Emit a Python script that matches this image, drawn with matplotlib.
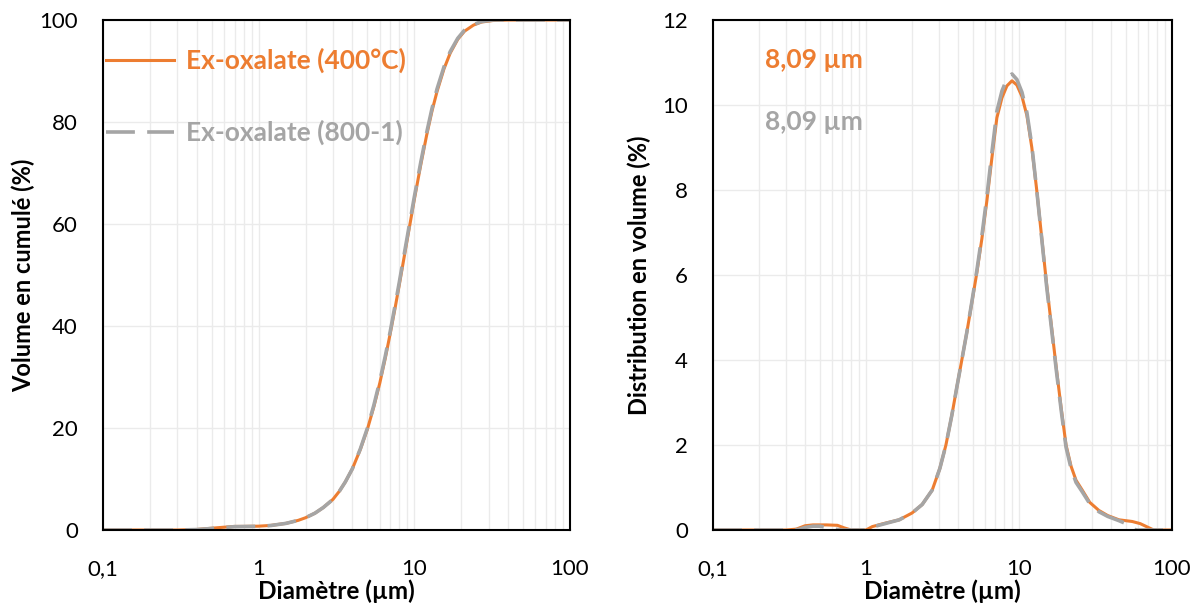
import matplotlib
matplotlib.use("Agg")
import matplotlib.pyplot as plt
import numpy as np

plt.rcParams['font.family'] = ['Lato', 'DejaVu Sans']

ORANGE = '#ED7D31'
GRAY = '#A5A5A5'

# cumulative volume (%) vs diameter (um)
cum_d = [0.1, 0.2, 0.3, 0.4, 0.5, 0.6, 0.7, 0.8, 1.0, 1.2, 1.5, 1.8, 2.0, 2.3, 2.6, 3.0, 3.3, 3.6, 4.0,
         4.5, 5.0, 5.5, 6.0, 6.5, 7.0, 7.5, 8.0, 8.5, 9.0, 10.0, 11.0, 12.0, 13.0, 14.0, 15.5, 17.0,
         19.0, 21.0, 24.0, 27.0, 32.0, 40.0, 60.0, 100.0]
cum_a = [0, 0, 0, 0.1, 0.35, 0.55, 0.7, 0.7, 0.75, 0.9, 1.3, 1.9, 2.4, 3.3, 4.4, 6.0, 7.6, 9.4, 12.0,
         15.8, 19.8, 24.2, 28.8, 33.6, 38.5, 43.3, 48.0, 52.6, 56.9, 64.8, 71.6, 77.4, 82.2, 86.0, 90.4, 93.5,
         96.2, 97.8, 99.0, 99.6, 99.9, 100, 100, 100]
cum_b = [0, 0, 0, 0.08, 0.3, 0.5, 0.65, 0.68, 0.72, 0.88, 1.3, 1.9, 2.4, 3.3, 4.4, 6.0, 7.6, 9.4, 12.0,
         15.9, 20.0, 24.5, 29.2, 34.0, 38.9, 43.8, 48.5, 53.1, 57.4, 65.3, 72.1, 77.9, 82.7, 86.5, 90.8, 93.8,
         96.4, 98.0, 99.1, 99.7, 100, 100, 100, 100]

# volume distribution (%) vs diameter (um)
dist_d_a = [0.1, 0.3, 0.35, 0.4, 0.45, 0.55, 0.65, 0.72, 0.8, 1.0, 1.1, 1.3, 1.65, 2.0, 2.33, 2.71,
            3.04, 3.33, 3.64, 3.92, 4.23, 4.56, 4.92, 5.3, 5.72, 6.17, 6.65, 7.17, 7.74, 8.34, 9.0,
            9.69, 10.46, 11.27, 12.13, 13.06, 14.06, 15.14, 16.3, 17.55, 18.9, 20.3, 21.9, 23.6,
            25.9, 29.0, 33.3, 38.0, 45.0, 55.0, 62.0, 70.0, 76.0, 100.0]
dist_a = [0, 0, 0.02, 0.1, 0.12, 0.12, 0.11, 0.05, 0, 0, 0.08, 0.15, 0.24, 0.4, 0.6, 0.94,
          1.45, 2.0, 2.7, 3.35, 4.0, 4.65, 5.35, 6.05, 6.85, 7.75, 8.75, 9.7, 10.17, 10.45, 10.57,
          10.47, 10.2, 9.75, 9.0, 8.0, 6.9, 5.8, 4.8, 3.8, 2.85, 2.0, 1.5, 1.17,
          0.94, 0.65, 0.46, 0.34, 0.24, 0.2, 0.15, 0.06, 0, 0]
dist_d_b = [0.1, 0.3, 0.36, 0.4, 0.45, 0.5, 0.55, 0.62, 0.7, 1.0, 1.1, 1.3, 1.65, 2.0, 2.33, 2.71,
            3.04, 3.33, 3.64, 3.92, 4.23, 4.56, 4.92, 5.3, 5.72, 6.17, 6.65, 7.17, 7.74, 8.34, 9.0,
            9.69, 10.46, 11.27, 12.13, 13.06, 14.06, 15.14, 16.3, 17.55, 18.9, 20.3, 21.9, 23.6,
            25.9, 29.0, 33.3, 38.0, 45.0, 50.0, 55.0, 58.0, 100.0]
dist_b = [0, 0, 0.01, 0.06, 0.09, 0.09, 0.06, 0.02, 0, 0, 0.07, 0.14, 0.24, 0.4, 0.6, 0.94,
          1.45, 2.0, 2.7, 3.35, 4.0, 4.65, 5.37, 6.1, 6.92, 7.85, 8.88, 9.85, 10.33, 10.62, 10.73,
          10.6, 10.3, 9.82, 9.05, 8.0, 6.88, 5.75, 4.75, 3.75, 2.8, 1.95, 1.45, 1.12,
          0.9, 0.62, 0.43, 0.32, 0.22, 0.15, 0.06, 0, 0]

labels = ['Ex-oxalate (400°C)', 'Ex-oxalate (800-1)']
d50 = ['8,09 µm', '8,09 µm']
xticks = [0.1, 1, 10, 100]
xticklabels = ['0,1', '1', '10', '100']

fig = plt.figure(figsize=(12.03, 6.08), dpi=100)
ax1 = fig.add_axes([0.0856, 0.1283, 0.3882, 0.8388])
ax2 = fig.add_axes([0.5927, 0.1283, 0.3815, 0.8388])

def style(ax, ymax, ystep, ylabel, lpad):
    ax.set_xscale('log')
    ax.set_xlim(0.1, 100)
    ax.set_ylim(0, ymax)
    ax.set_xticks(xticks)
    ax.set_xticklabels(xticklabels)
    ax.set_yticks(np.arange(0, ymax + 0.01, ystep))
    ax.set_xticks([m * 10.0**e for e in (-1, 0, 1) for m in range(2, 10)], minor=True)
    ax.xaxis.set_minor_formatter(plt.NullFormatter())
    ax.grid(True, which='both', axis='x', color='#ebebeb', lw=1)
    ax.grid(True, which='major', axis='y', color='#ebebeb', lw=1)
    ax.set_axisbelow(True)
    ax.tick_params(which='both', length=0, labelsize=16)
    ax.tick_params(axis='x', pad=21)
    ax.tick_params(axis='y', pad=18)
    for s in ax.spines.values():
        s.set_color('black')
        s.set_linewidth(1.5)
    ax.set_xlabel('Diamètre (µm)', fontsize=17.5, fontweight='bold', labelpad=0)
    ax.set_ylabel(ylabel, fontsize=17, fontweight='bold', labelpad=lpad)

style(ax1, 100, 20, 'Volume en cumulé (%)', 3)
style(ax2, 12, 2, 'Distribution en volume (%)', 8)

ax1.plot(cum_d, cum_a, color=ORANGE, lw=2.2, label=labels[0])
ax1.plot(cum_d, cum_b, color=GRAY, lw=2.6, dashes=(8, 3.4), label=labels[1])
ax2.plot(dist_d_a, dist_a, color=ORANGE, lw=2.2)
ax2.plot(dist_d_b, dist_b, color=GRAY, lw=2.6, dashes=(8, 3.4))

leg = ax1.legend(loc='upper left', bbox_to_anchor=(0.006, 0.945), frameon=False,
                 borderpad=0, borderaxespad=0,
                 handlelength=2.6, handletextpad=0.45, labelspacing=1.77,
                 prop={'weight': 'bold', 'size': 19})
for t, c in zip(leg.get_texts(), [ORANGE, GRAY]):
    t.set_color(c)

ax2.text(0.113, 0.922, d50[0], transform=ax2.transAxes, color=ORANGE, fontsize=19,
         fontweight='bold', va='center')
ax2.text(0.113, 0.80, d50[1], transform=ax2.transAxes, color=GRAY, fontsize=19,
         fontweight='bold', va='center')

fig.savefig('out.png', dpi=100)
